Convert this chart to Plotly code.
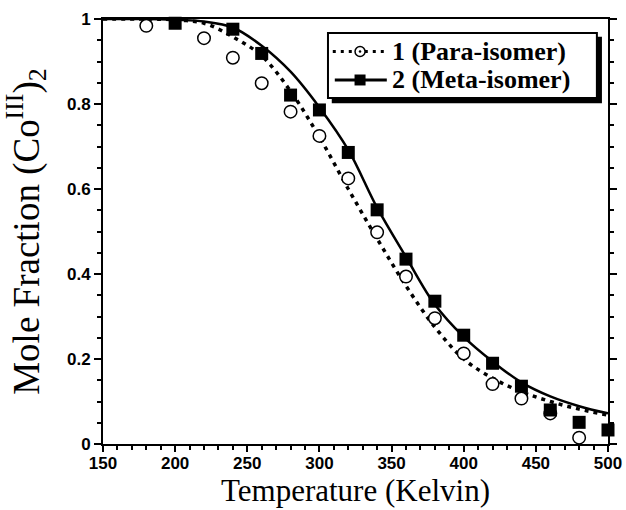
import plotly.graph_objects as go

# Data points
para_T = [180, 220, 240, 260, 280, 300, 320, 340, 360, 380, 400, 420, 440, 460, 480]
para_X = [0.984, 0.955, 0.909, 0.849, 0.782, 0.725, 0.625, 0.498, 0.394, 0.296, 0.213, 0.141, 0.107, 0.072, 0.015]

meta_T = [200, 240, 260, 280, 300, 320, 340, 360, 380, 400, 420, 440, 460, 480, 500]
meta_X = [0.990, 0.976, 0.919, 0.821, 0.786, 0.686, 0.551, 0.435, 0.336, 0.256, 0.190, 0.136, 0.080, 0.051, 0.033]

# Fitted curves
para_fit_T = [150, 180, 200, 220, 240, 260, 280, 300, 320, 340, 360, 380, 400, 420, 440, 460, 480, 500]
para_fit_X = [1.0, 1.0, 0.998, 0.99, 0.958, 0.913, 0.83, 0.722, 0.60, 0.483, 0.372, 0.275, 0.20, 0.155, 0.123, 0.10, 0.082, 0.068]

meta_fit_T = [150, 180, 200, 220, 240, 260, 280, 300, 320, 340, 360, 380, 400, 420, 440, 460, 480, 500]
meta_fit_X = [1.0, 1.0, 0.998, 0.994, 0.980, 0.937, 0.876, 0.792, 0.692, 0.556, 0.44, 0.328, 0.252, 0.194, 0.145, 0.112, 0.089, 0.072]

x_ticks = [150, 200, 250, 300, 350, 400, 450, 500]
y_ticks = [0, 0.2, 0.4, 0.6, 0.8, 1]
y_ticktext = ["0", "0.2", "0.4", "0.6", "0.8", "1"]

legend_labels = ["1 (Para-isomer)", "2 (Meta-isomer)"]

fig = go.Figure()

fig.add_trace(go.Scatter(x=para_fit_T, y=para_fit_X, mode="lines", line=dict(color="black", width=3.5, dash="4px,5px", shape="spline"), showlegend=False))
fig.add_trace(go.Scatter(x=meta_fit_T, y=meta_fit_X, mode="lines", line=dict(color="black", width=2.5, shape="spline"), showlegend=False))
fig.add_trace(go.Scatter(x=para_T, y=para_X, mode="markers", marker=dict(symbol="circle", size=12.5, color="white", line=dict(color="black", width=1.5)), showlegend=False, cliponaxis=False))
fig.add_trace(go.Scatter(x=meta_T, y=meta_X, mode="markers", marker=dict(symbol="square", size=13, color="black", line=dict(color="black", width=0)), showlegend=False, cliponaxis=False))

# ---- manual legend (paper coordinates) ----
P = dict(xref="paper", yref="paper")
# shadow
fig.add_shape(type="rect", x0=0.453, x1=0.988, y0=0.802, y1=0.958, fillcolor="black", line=dict(width=0), **P)
# box
fig.add_shape(type="rect", x0=0.4455, x1=0.978, y0=0.814, y1=0.967, fillcolor="white", line=dict(color="black", width=2), **P)
row_y = [0.9235, 0.8565]
# row 1: dotted line + open circle with dot
fig.add_shape(type="line", x0=0.455, x1=0.564, y0=row_y[0], y1=row_y[0], line=dict(color="black", width=3, dash="3px,5px"), **P)
fig.add_shape(type="circle", x0=0.509 - 0.0099, x1=0.509 + 0.0099, y0=row_y[0] - 0.0118, y1=row_y[0] + 0.0118,
              fillcolor="white", line=dict(color="black", width=1.5), **P)
fig.add_shape(type="circle", x0=0.509 - 0.0025, x1=0.509 + 0.0025, y0=row_y[0] - 0.003, y1=row_y[0] + 0.003,
              fillcolor="black", line=dict(color="black", width=0), **P)
# row 2: solid line + filled square
fig.add_shape(type="line", x0=0.459, x1=0.562, y0=row_y[1], y1=row_y[1], line=dict(color="black", width=3), **P)
fig.add_shape(type="rect", x0=0.509 - 0.0109, x1=0.509 + 0.0109, y0=row_y[1] - 0.0129, y1=row_y[1] + 0.0129,
              fillcolor="black", line=dict(width=0), **P)
for lbl, yy in zip(legend_labels, row_y):
    fig.add_annotation(text=lbl, x=0.568, y=yy, xanchor="left", yanchor="middle", showarrow=False,
                       font=dict(family="Liberation Serif", size=26, color="black", weight="bold"), **P)

fig.update_layout(
    width=626, height=510,
    margin=dict(l=103, r=18, t=19, b=66),
    paper_bgcolor="white", plot_bgcolor="white",
    showlegend=False,
)

fig.update_xaxes(
    range=[150, 500], tickvals=x_ticks, showgrid=False, zeroline=False, automargin=False,
    showline=True, linecolor="black", linewidth=2, mirror=True,
    ticks="outside", ticklen=6, tickwidth=2, tickcolor="black", ticklabelstandoff=-3,
    minor=dict(dtick=10, ticks="outside", ticklen=4, tickwidth=2, tickcolor="black", showgrid=False),
    tickfont=dict(family="Liberation Sans", size=17, color="black", weight="bold"),
    title=dict(text="Temperature (Kelvin)", font=dict(family="Liberation Serif", size=31, color="black"), standoff=0),
)
fig.update_yaxes(
    range=[0, 1], tickvals=y_ticks, ticktext=y_ticktext, showgrid=False, zeroline=False, automargin=False,
    showline=True, linecolor="black", linewidth=2, mirror="allticks",
    ticks="outside", ticklen=7, tickwidth=2, tickcolor="black",
    minor=dict(dtick=0.05, ticks="outside", ticklen=4, tickwidth=2, tickcolor="black", showgrid=False),
    tickfont=dict(family="Liberation Sans", size=17, color="black", weight="bold"),
    title=dict(text="Mole Fraction (Co<sup>III</sup>)<sub>2</sub>", font=dict(family="Liberation Serif", size=37, color="black"), standoff=22),
)

fig.write_html("out.html", config={"displayModeBar": False}, post_script="document.body.style.margin='0';")
